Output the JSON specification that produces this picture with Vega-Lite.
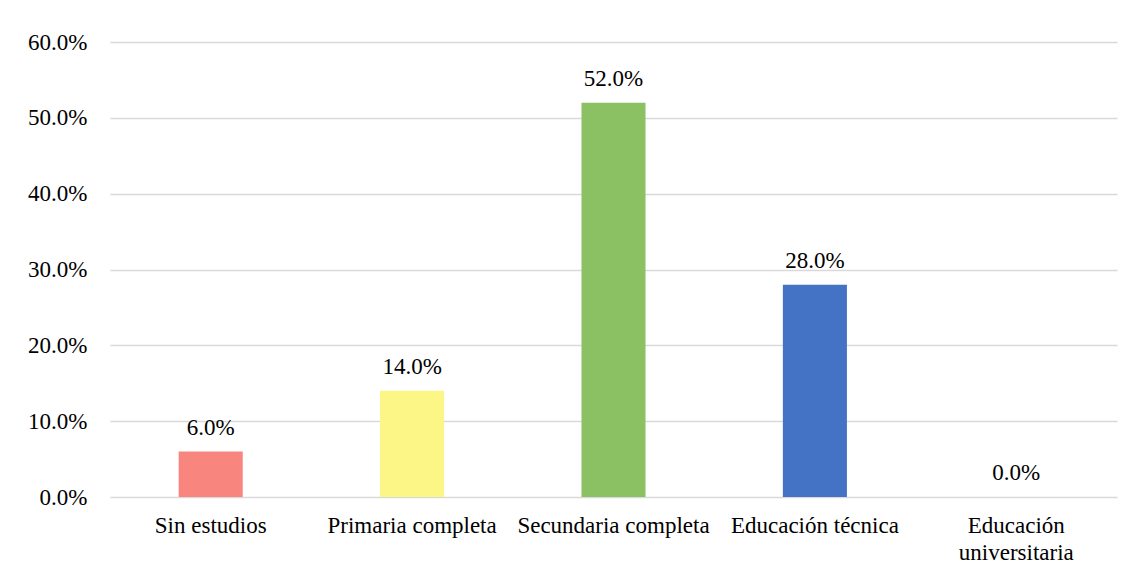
{
  "$schema": "https://vega.github.io/schema/vega-lite/v6.json",
  "width": 1007,
  "height": 455,
  "autosize": {"type": "none"},
  "padding": {"left": 110, "top": 42, "right": 16, "bottom": 79},
  "background": "#ffffff",
  "config": {
    "view": {"stroke": null},
    "font": "Liberation Serif",
    "axis": {"labelFont": "Liberation Serif", "labelColor": "#000000", "labelFontSize": 23, "labelLimit": 0}
  },
  "data": {
    "values": [
      {"nivel": "Sin estudios", "pct": 0.06},
      {"nivel": "Primaria completa", "pct": 0.14},
      {"nivel": "Secundaria completa", "pct": 0.52},
      {"nivel": "Educación técnica", "pct": 0.28},
      {"nivel": "Educación universitaria", "pct": 0.0}
    ]
  },
  "encoding": {
    "x": {
      "field": "nivel",
      "type": "nominal",
      "sort": null,
      "title": null,
      "scale": {"paddingInner": 0.682, "paddingOuter": 0.341},
      "axis": {
        "labelAngle": 0,
        "domain": false,
        "ticks": false,
        "labelPadding": 17,
        "labelLineHeight": 27,
        "labelLimit": 0,
        "labelOverlap": false,
        "labelExpr": "datum.value == 'Educación universitaria' ? ['Educación', 'universitaria'] : datum.value"
      }
    },
    "y": {
      "field": "pct",
      "type": "quantitative",
      "title": null,
      "scale": {"domain": [0, 0.6]},
      "axis": {
        "values": [0, 0.1, 0.2, 0.3, 0.4, 0.5, 0.6],
        "format": ".1%",
        "domain": false,
        "ticks": false,
        "labelPadding": 23,
        "gridColor": "#d9d9d9",
        "gridWidth": 1.5
      }
    }
  },
  "layer": [
    {
      "mark": {"type": "bar"},
      "encoding": {
        "color": {
          "field": "nivel",
          "type": "nominal",
          "sort": null,
          "legend": null,
          "scale": {
            "domain": ["Sin estudios", "Primaria completa", "Secundaria completa", "Educación técnica", "Educación universitaria"],
            "range": ["#F9857F", "#FBF685", "#8BC163", "#4472C4", "#A5A5A5"]
          }
        }
      }
    },
    {
      "mark": {"type": "text", "dy": -12, "baseline": "bottom", "fontSize": 23, "font": "Liberation Serif", "color": "#000000"},
      "encoding": {
        "text": {"field": "pct", "type": "quantitative", "format": ".1%"}
      }
    }
  ]
}
